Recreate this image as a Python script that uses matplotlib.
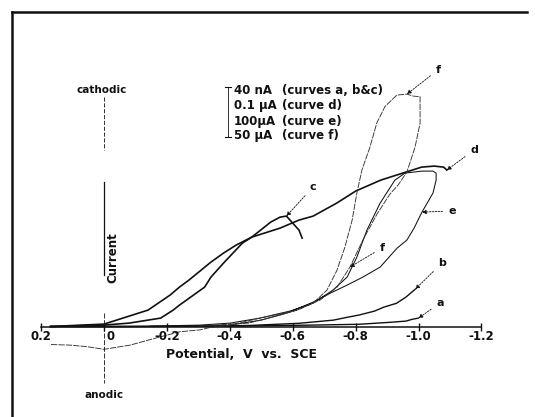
import matplotlib
matplotlib.use("Agg")
import matplotlib.pyplot as plt

# potential (V vs. SCE) and current (arbitrary units)
a_E = [0.17, 0.0, -0.20, -0.40, -0.62, -0.81, -0.91, -0.96, -0.98, -1.00]
a_I = [0.0, 0.0, 0.1, 0.2, 0.6, 1.1, 2.1, 2.7, 3.6, 4.2]

b_E = [0.17, 0.0, -0.20, -0.46, -0.62, -0.73, -0.77, -0.81, -0.86, -0.89, -0.93, -0.96, -0.99]
b_I = [0.0, 0.0, 0.1, 0.5, 1.6, 3.2, 4.5, 5.7, 7.7, 9.7, 11.6, 14.7, 18.7]

c_E = [0.17, 0.0, -0.08, -0.18, -0.22, -0.24, -0.32, -0.34, -0.38, -0.44, -0.47,
       -0.53, -0.56, -0.58, -0.60, -0.62, -0.63]
c_I = [0.0, 0.7, 1.7, 4.2, 8.2, 10.7, 19.7, 24.7, 31.7, 41.7, 44.7,
       52.2, 54.7, 55.2, 51.7, 48.2, 44.2]

d_E = [0.17, 0.0, -0.11, -0.14, -0.21, -0.24, -0.27, -0.34, -0.38, -0.42, -0.47, -0.56,
       -0.59, -0.62, -0.665, -0.74, -0.80, -0.88, -0.94, -0.97, -1.01, -1.05, -1.08, -1.09]
d_I = [0.0, 1.2, 6.7, 8.2, 15.7, 19.7, 23.2, 32.2, 36.7, 40.7, 44.7, 49.2,
       51.2, 53.2, 55.2, 61.7, 67.7, 73.2, 76.2, 77.7, 79.7, 80.2, 79.7, 78.2]

e_E = [-0.30, -0.40, -0.50, -0.59, -0.665, -0.72, -0.773, -0.823, -0.878, -0.932, -0.963,
       -0.986, -1.011, -1.046, -1.056, -1.056, -1.046, -1.011, -0.957, -0.925, -0.878,
       -0.836, -0.804, -0.773, -0.728, -0.665, -0.591, -0.496, -0.401, -0.305, -0.146]
e_I = [0.3, 0.7, 3.2, 7.2, 12.2, 16.7, 20.7, 24.7, 29.7, 39.2, 43.2,
       49.2, 57.2, 66.7, 73.2, 76.7, 77.7, 77.7, 76.7, 73.2, 61.7,
       48.2, 34.7, 24.7, 18.2, 11.7, 7.7, 4.2, 1.7, 0.7, 0.2]

f_E = [-0.30, -0.46, -0.56, -0.614, -0.665, -0.709, -0.741, -0.766, -0.789, -0.804, -0.820,
       -0.846, -0.867, -0.893, -0.931, -0.963, -0.983, -1.005, -1.005, -0.989, -0.963,
       -0.935, -0.909, -0.868, -0.823, -0.782, -0.741, -0.687, -0.614, -0.496, -0.401,
       -0.337, -0.305, -0.242, -0.188, -0.083, 0.0, 0.054, 0.108, 0.172]
f_I = [0.2, 1.7, 5.7, 8.2, 11.7, 18.2, 28.2, 39.7, 53.2, 66.7, 78.2,
       89.9, 101.6, 109.9, 115.7, 116.2, 115.2, 114.9, 101.7, 89.7, 77.2,
       70.7, 66.2, 56.2, 43.2, 29.7, 19.7, 13.2, 8.2, 4.2, 0.7,
       -0.5, -1.7, -2.6, -4.8, -9.3, -11.4, -10.1, -9.3, -9.0]

x_ticks = [0.2, 0.0, -0.2, -0.4, -0.6, -0.8, -1.0, -1.2]
x_ticklabels = ["0.2", "0", "-0.2", "-0.4", "-0.6", "-0.8", "-1.0", "-1.2"]

scale_values = ["40 nA", "0.1 μA", "100μA", "50 μA"]
scale_curves = ["(curves a, b&c)", "(curve d)", "(curve e)", "(curve f)"]

W, H = 535, 417
plt.rcParams['font.family'] = ['DejaVu Sans']


def fxy(x, y):
    # picture pixel -> figure fraction
    return x / W, 1 - y / H


fig = plt.figure(figsize=(W / 100, H / 100), dpi=100)
ax = fig.add_axes([0, 0, 1, 1])
ax.set_xlim(0.3307, -1.3704)
ax.set_ylim(-45.25, 163.25)
ax.axis('off')

ink = '#111111'

# potential axis with ticks
ax.plot([x_ticks[0], x_ticks[-1]], [0, 0], color=ink, lw=1.1)
ax.plot(x_ticks, [0] * len(x_ticks), ls='none', marker='|', ms=6, mew=1.0, color=ink)
for t, lab in zip(x_ticks, x_ticklabels):
    dx = 0.02 if t == 0 else 0
    ax.text(t - dx, -5.2, lab, ha='center', va='center', fontsize=8.5, fontweight='bold', color=ink)

# curves
ax.plot(a_E, a_I, color=ink, lw=1.0)
ax.plot(b_E, b_I, color=ink, lw=1.0)
ax.plot(c_E, c_I, color=ink, lw=1.2)
ax.plot(d_E, d_I, color=ink, lw=1.2)
ax.plot(e_E, e_I, color=ink, lw=0.75)
ax.plot(f_E, f_I, color='#333333', lw=0.65, ls=(0, (7, 1.2)))

# current axis (broken vertical line at 0 V)
for y0, y1, lw, ls in [(97, 150, 0.6, (0, (5, 2))), (182, 275, 0.9, '-'), (313, 383, 0.6, (0, (6, 2)))]:
    x0, f0 = fxy(104, y0)
    _, f1 = fxy(104, y1)
    ax.plot([x0, x0], [f0, f1], transform=fig.transFigure, color=ink, lw=lw, ls=ls)

# frame (top and left edges only)
ax.plot([fxy(12, 12)[0], fxy(527, 12)[0]], [fxy(12, 12)[1]] * 2, transform=fig.transFigure, color=ink, lw=1.8)
ax.plot([fxy(12, 12)[0]] * 2, [fxy(12, 12)[1], 0], transform=fig.transFigure, color=ink, lw=1.8)

# axis texts
fig.text(*fxy(102, 90), "cathodic", ha='center', va='center', fontsize=7.5, fontweight='bold', color=ink)
fig.text(*fxy(104, 395), "anodic", ha='center', va='center', fontsize=7.5, fontweight='bold', color=ink)
fig.text(*fxy(113, 258), "Current", ha='center', va='center', rotation=90, fontsize=8.5, fontweight='bold', color=ink)
fig.text(*fxy(241, 355), "Potential,  V  vs.  SCE", ha='center', va='center', fontsize=9, fontweight='bold', color=ink)

# current scale bar
bx = fxy(228, 0)[0]
ax.plot([bx, bx], [fxy(0, 87)[1], fxy(0, 137)[1]], transform=fig.transFigure, color=ink, lw=0.6)
for yy in (87, 137):
    ax.plot([fxy(225, 0)[0], fxy(231, 0)[0]], [fxy(0, yy)[1]] * 2, transform=fig.transFigure, color=ink, lw=0.8)
for i, (val, cur) in enumerate(zip(scale_values, scale_curves)):
    yy = [90, 105, 121, 136][i]
    fig.text(*fxy(234, yy), val, ha='left', va='center', fontsize=8.5, fontweight='bold', color=ink)
    fig.text(*fxy(282, yy), cur, ha='left', va='center', fontsize=8.5, fontweight='bold', color=ink)

# curve labels with dashed leaders
c_pk = c_I.index(max(c_I))
f_pk = f_I.index(max(f_I))
leaders = [
    ("f", (f_E[f_pk], f_I[f_pk]), (438, 70)),
    ("d", (d_E[-1], d_I[-1]), (474, 150)),
    ("c", (c_E[c_pk], c_I[c_pk]), (313, 187)),
    ("e", (e_E[12], e_I[12]), (452, 211)),
    ("f", (f_E[25], f_I[25]), (382, 248)),
    ("b", (b_E[-1], b_I[-1]), (442, 263)),
    ("a", (a_E[-1], a_I[-1]), (440, 303)),
]
for lab, target, pos in leaders:
    ax.annotate(lab, xy=target, xytext=fxy(*pos), textcoords='figure fraction',
                ha='center', va='center', fontsize=8, fontweight='bold', color=ink,
                arrowprops=dict(arrowstyle='-|>', lw=0.6, ls=(0, (2, 1.5)), color=ink,
                                mutation_scale=6, shrinkA=2, shrinkB=0))

fig.savefig("out.png", dpi=100, facecolor='white')
